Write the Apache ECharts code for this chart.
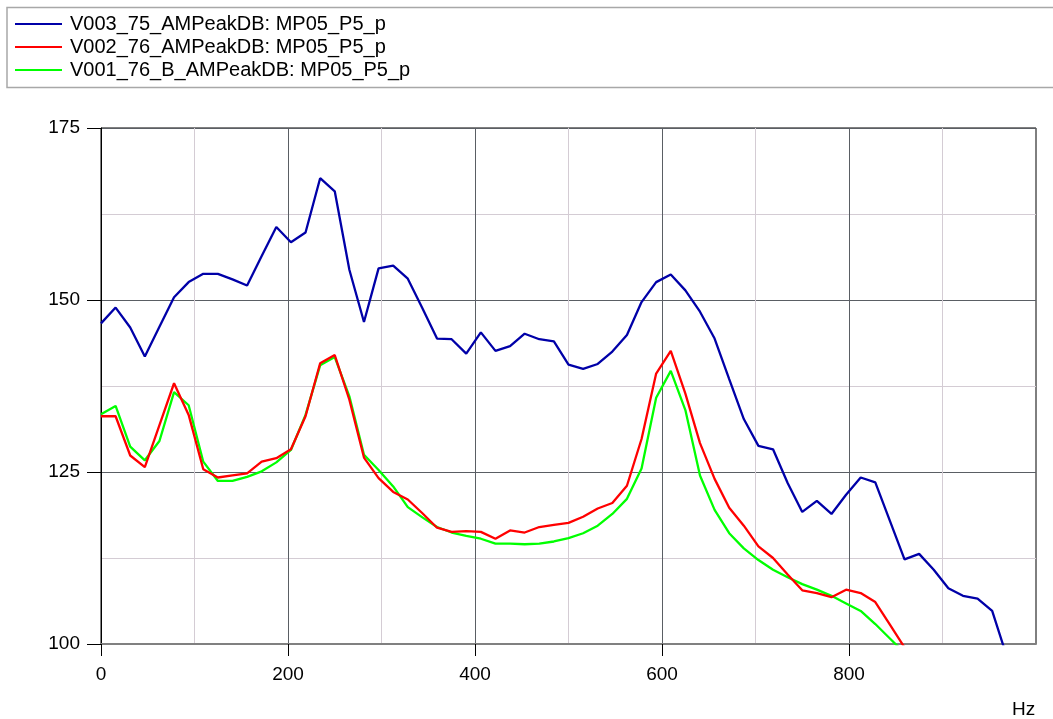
<!DOCTYPE html>
<html>
<head>
<meta charset="utf-8">
<title>AMPeakDB MP05_P5_p</title>
<script src="https://cdn.jsdelivr.net/npm/echarts@6/dist/echarts.min.js"></script>
<style>
  html, body { margin: 0; padding: 0; background: #ffffff; }
  #chart { width: 1053px; height: 719px; }
</style>
</head>
<body>
<div id="chart"></div>
<script>
// Frequency bins (Hz), 15.625 Hz spacing
const freqHz = [
  0, 15.625, 31.25, 46.875, 62.5, 78.125, 93.75, 109.375, 125, 140.625,
  156.25, 171.875, 187.5, 203.125, 218.75, 234.375, 250, 265.625, 281.25, 296.875,
  312.5, 328.125, 343.75, 359.375, 375, 390.625, 406.25, 421.875, 437.5, 453.125,
  468.75, 484.375, 500, 515.625, 531.25, 546.875, 562.5, 578.125, 593.75, 609.375,
  625, 640.625, 656.25, 671.875, 687.5, 703.125, 718.75, 734.375, 750, 765.625,
  781.25, 796.875, 812.5, 828.125, 843.75, 859.375, 875, 890.625, 906.25, 921.875,
  937.5, 953.125, 968.75
];

// AM peak levels (dB) per bin
const v003 = [
  146.6, 148.9, 146.0, 141.8, 146.1, 150.4, 152.6, 153.8, 153.8, 153.0,
  152.1, 156.4, 160.6, 158.4, 159.8, 167.7, 165.8, 154.4, 146.8, 154.6,
  155.0, 153.1, 148.8, 144.4, 144.3, 142.2, 145.3, 142.6, 143.3, 145.1,
  144.3, 144.0, 140.6, 140.0, 140.7, 142.5, 144.9, 149.7, 152.6, 153.7,
  151.4, 148.3, 144.4, 138.5, 132.7, 128.8, 128.3, 123.4, 119.2, 120.8,
  118.9, 121.7, 124.2, 123.5, 117.9, 112.3, 113.1, 110.8, 108.1, 107.0,
  106.6, 104.8, 98.2
];
const v002 = [
  133.1, 133.1, 127.4, 125.7, 131.8, 137.9, 133.3, 125.4, 124.2, 124.5,
  124.8, 126.5, 127.0, 128.3, 133.1, 140.8, 142.0, 135.5, 127.1, 124.1,
  122.1, 121.0, 119.0, 116.9, 116.3, 116.4, 116.3, 115.3, 116.5, 116.2,
  117.0, 117.3, 117.6, 118.5, 119.7, 120.5, 123.0, 129.8, 139.3, 142.6,
  136.4, 129.2, 124.0, 119.8, 117.2, 114.2, 112.5, 110.1, 107.8, 107.4,
  106.8, 107.9, 107.4, 106.1, 102.8, 99.5
];
const v001 = [
  133.4, 134.6, 128.7, 126.7, 129.5, 136.6, 134.7, 126.5, 123.7, 123.7,
  124.3, 125.1, 126.4, 128.2, 133.3, 140.5, 141.7, 136.0, 127.5, 125.3,
  122.9, 119.9, 118.4, 117.0, 116.2, 115.7, 115.3, 114.6, 114.6, 114.5,
  114.6, 114.9, 115.4, 116.1, 117.2, 118.9, 121.1, 125.5, 135.8, 139.7,
  134.0, 124.5, 119.5, 116.1, 113.9, 112.2, 110.8, 109.7, 108.7, 107.9,
  107.0, 105.9, 104.8, 102.9, 100.8, 98.7
];

const seriesNames = [
  'V003_75_AMPeakDB: MP05_P5_p',
  'V002_76_AMPeakDB: MP05_P5_p',
  'V001_76_B_AMPeakDB: MP05_P5_p'
];
const xTickLabels = [0, 200, 400, 600, 800];
const yTickLabels = [100, 125, 150, 175];
const xUnit = 'Hz';

const FONT = '"Liberation Sans", Arial, sans-serif';
// plain horizontal stroke used as the legend key
const LEGEND_KEY = 'path://M0,0L47,0L47,2.2L0,2.2Z';

function pairs(values) {
  return values.map((v, i) => [freqHz[i], v]);
}

function lineSeries(name, values, color) {
  return {
    name: name,
    type: 'line',
    data: pairs(values),
    symbol: 'none',
    showSymbol: false,
    clip: true,
    animation: false,
    lineStyle: { color: color, width: 2.3 },
    itemStyle: { color: color }
  };
}

const chart = echarts.init(document.getElementById('chart'), null, { renderer: 'canvas' });

chart.setOption({
  backgroundColor: '#ffffff',
  animation: false,
  textStyle: { fontFamily: FONT },
  legend: {
    data: seriesNames.map(n => ({ name: n, icon: LEGEND_KEY })),
    orient: 'vertical',
    left: 10,
    top: 9,
    itemWidth: 47,
    itemHeight: 2.2,
    itemGap: 3,
    selectedMode: false,
    textStyle: { fontFamily: FONT, fontSize: 20, lineHeight: 20, color: '#000000', padding: [0, 0, 0, 3] }
  },
  grid: {
    left: 101,
    top: 128,
    right: 17,
    bottom: 75,
    show: true,
    borderColor: '#000000',
    borderWidth: 1,
    backgroundColor: 'transparent'
  },
  xAxis: {
    type: 'value',
    min: 0,
    max: 1000,
    interval: 200,
    axisLine: { show: true, onZero: false, lineStyle: { color: '#808080', width: 2 } },
    axisTick: {
      show: true, inside: false, length: 12,
      customValues: xTickLabels,
      lineStyle: { color: '#000000', width: 1 }
    },
    axisLabel: {
      customValues: xTickLabels,
      margin: 21,
      fontSize: 19,
      color: '#000000',
      fontFamily: FONT
    },
    splitLine: { show: true, lineStyle: { color: '#5a5e64', width: 1 } },
    minorTick: { show: false, splitNumber: 2 },
    minorSplitLine: { show: true, lineStyle: { color: '#d4ccd4', width: 1 } }
  },
  yAxis: {
    type: 'value',
    min: 100,
    max: 175,
    interval: 25,
    axisLine: { show: true, lineStyle: { color: '#000000', width: 1 } },
    axisTick: { show: true, inside: false, length: 14, lineStyle: { color: '#000000', width: 1 } },
    axisLabel: {
      customValues: yTickLabels,
      margin: 21,
      fontSize: 19,
      color: '#000000',
      fontFamily: FONT
    },
    splitLine: { show: true, lineStyle: { color: '#5a5e64', width: 1 } },
    minorTick: { show: false, splitNumber: 2 },
    minorSplitLine: { show: true, lineStyle: { color: '#d4ccd4', width: 1 } }
  },
  series: [
    lineSeries(seriesNames[2], v001, '#00ff00'),
    lineSeries(seriesNames[1], v002, '#ff0000'),
    lineSeries(seriesNames[0], v003, '#0000a8')
  ],
  graphic: [
    {
      type: 'rect',
      silent: true,
      z: -1,
      shape: { x: 7, y: 7.5, width: 1060, height: 80 },
      style: { fill: 'none', stroke: '#a8a8a8', lineWidth: 1.5 }
    },
    {
      type: 'text',
      silent: true,
      left: 1012,
      top: 700,
      style: { text: xUnit, fontSize: 19, fontFamily: FONT, fill: '#000000' }
    }
  ]
});
</script>
</body>
</html>
